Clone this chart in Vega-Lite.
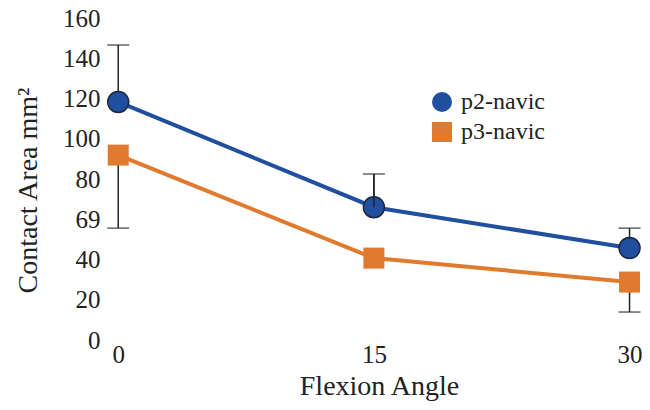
{
  "$schema": "https://vega.github.io/schema/vega-lite/v6.json",
  "width": 542,
  "height": 330,
  "autosize": {"type": "none"},
  "padding": {"left": 108, "top": 10, "right": 0, "bottom": 70},
  "background": "#ffffff",
  "config": {
    "view": {"stroke": null},
    "axis": {"labelFont": "Liberation Serif", "titleFont": "Liberation Serif", "labelColor": "#222222", "titleColor": "#222222", "titleFontWeight": "normal", "grid": false},
    "legend": {"labelFont": "Liberation Serif", "labelColor": "#222222"}
  },
  "datasets": {
    "points": [
      {"angle": 0, "series": "p2-navic", "value": 118.3},
      {"angle": 15, "series": "p2-navic", "value": 66},
      {"angle": 30, "series": "p2-navic", "value": 45.7},
      {"angle": 0, "series": "p3-navic", "value": 91.9},
      {"angle": 15, "series": "p3-navic", "value": 40.7},
      {"angle": 30, "series": "p3-navic", "value": 28.8}
    ],
    "bars": [
      {"angle": 0, "from": 118.3, "to": 146.6},
      {"angle": 0, "from": 91.9, "to": 55.6},
      {"angle": 15, "from": 66, "to": 82.5},
      {"angle": 30, "from": 45.7, "to": 55.6},
      {"angle": 30, "from": 28.8, "to": 13.9}
    ]
  },
  "layer": [
    {
      "data": {"name": "bars"},
      "mark": {"type": "rule", "color": "#222222", "strokeWidth": 1.5},
      "encoding": {
        "x": {"field": "angle", "type": "quantitative", "scale": {"domain": [-0.6, 31.2], "nice": false, "zero": false}},
        "y": {"field": "from", "type": "quantitative", "scale": {"domain": [0, 164], "nice": false, "zero": false}},
        "y2": {"field": "to"}
      }
    },
    {
      "mark": {"type": "rule", "color": "#444444", "strokeWidth": 1.5},
      "encoding": {
        "x": {"datum": 0, "type": "quantitative"},
        "y": {"datum": 9, "type": "quantitative"},
        "y2": {"datum": 164}
      }
    },
    {
      "mark": {"type": "rule", "color": "#444444", "strokeWidth": 1.5},
      "encoding": {
        "x": {"datum": -0.6, "type": "quantitative"},
        "x2": {"datum": 31.2},
        "y": {"datum": 9, "type": "quantitative"}
      }
    },
    {
      "data": {"name": "points"},
      "mark": {"type": "line", "strokeWidth": 4},
      "encoding": {
        "x": {"field": "angle", "type": "quantitative",
          "axis": {"values": [0, 15, 30], "ticks": false, "domain": false, "labelFontSize": 25, "labelPadding": 2, "title": "Flexion Angle", "titleFontSize": 28, "titlePadding": 5}},
        "y": {"field": "value", "type": "quantitative",
          "axis": {"values": [0, 20, 40, 60, 80, 100, 120, 140, 160], "labelExpr": "datum.value == 60 ? '69' : datum.label", "ticks": false, "domain": false, "labelFontSize": 25, "labelPadding": 8, "title": "Contact  Area mm²", "titleFontSize": 28, "titlePadding": 20, "titleY": 180}},
        "color": {"field": "series", "type": "nominal", "scale": {"domain": ["p2-navic", "p3-navic"], "range": ["#1f4f9e", "#e07a2e"]}}
      }
    },
    {
      "data": {"name": "points"},
      "mark": {"type": "point", "filled": true, "opacity": 1, "size": 441},
      "encoding": {
        "x": {"field": "angle", "type": "quantitative"},
        "y": {"field": "value", "type": "quantitative"},
        "color": {"field": "series", "type": "nominal", "scale": {"domain": ["p2-navic", "p3-navic"], "range": ["#1f4f9e", "#e07a2e"]},
          "legend": {"title": null, "orient": "none", "legendX": 322, "legendY": 80, "labelFontSize": 24, "symbolSize": 400, "rowPadding": 6, "labelOffset": 7, "symbolStrokeWidth": 0, "symbolOpacity": 1}},
        "shape": {"field": "series", "type": "nominal", "scale": {"domain": ["p2-navic", "p3-navic"], "range": ["circle", "square"]}},
        "stroke": {"condition": {"test": "datum.series === 'p2-navic'", "value": "#1d2940"}, "value": "transparent"},
        "strokeWidth": {"value": 1.5}
      }
    },
    {
      "data": {"name": "bars"},
      "mark": {"type": "rule", "color": "#222222", "strokeWidth": 1.5},
      "transform": [{"filter": "datum.angle == 15"}],
      "encoding": {
        "x": {"field": "angle", "type": "quantitative"},
        "y": {"field": "from", "type": "quantitative"},
        "y2": {"field": "to"}
      }
    },
    {
      "data": {"name": "bars"},
      "mark": {"type": "tick", "orient": "horizontal", "color": "#222222", "thickness": 1.5, "size": 22},
      "encoding": {
        "x": {"field": "angle", "type": "quantitative"},
        "y": {"field": "to", "type": "quantitative"}
      }
    }
  ]
}
